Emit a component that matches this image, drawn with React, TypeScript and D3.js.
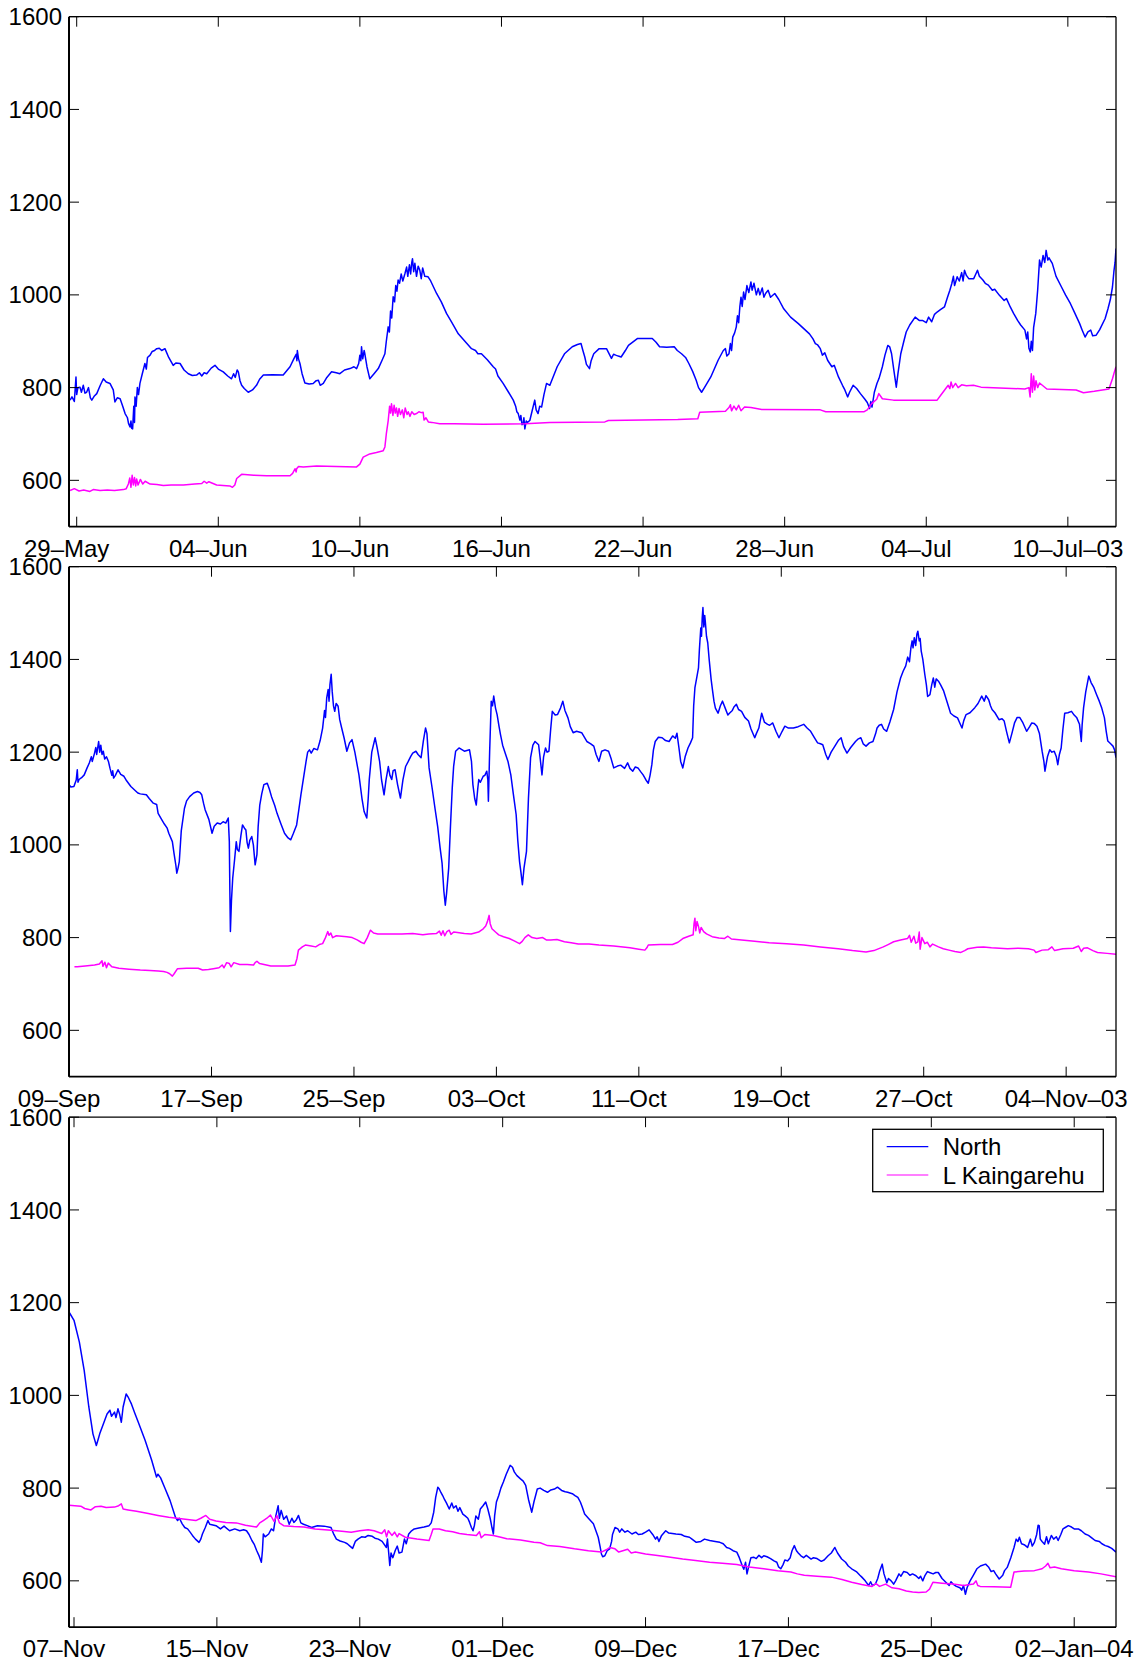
import React from 'react';
import * as d3 from 'd3';

type Pt = [number, number];
const FONT = '"Liberation Sans", Arial, Helvetica, sans-serif';

// ---- tick definitions ----
const yTickValues = [600, 800, 1000, 1200, 1400, 1600];
const p1TickLabels = ['29–May', '04–Jun', '10–Jun', '16–Jun', '22–Jun', '28–Jun', '04–Jul', '10–Jul–03'];
const p2TickLabels = ['09–Sep', '17–Sep', '25–Sep', '03–Oct', '11–Oct', '19–Oct', '27–Oct', '04–Nov–03'];
const p3TickLabels = ['07–Nov', '15–Nov', '23–Nov', '01–Dec', '09–Dec', '17–Dec', '25–Dec', '02–Jan–04'];
const seriesNames = ['North', 'L Kaingarehu'];

// ---- data: [days since panel start date, value] ----
const p1North: Pt[] = [[-0.28,773],[-0.2,780],[-0.1,770],[-0.03,823],[0.0,785],[0.05,800],[0.14,801],[0.2,790],[0.28,805],[0.35,788],[0.42,790],[0.5,800],[0.58,778],[0.64,773],[0.75,782],[0.85,787],[1.0,805],[1.13,819],[1.25,812],[1.41,809],[1.55,795],[1.62,769],[1.72,778],[1.84,776],[1.95,760],[2.05,744],[2.15,735],[2.2,722],[2.26,715],[2.3,728],[2.33,712],[2.37,711],[2.42,760],[2.45,725],[2.47,780],[2.52,760],[2.57,800],[2.62,785],[2.68,809],[2.78,830],[2.89,852],[2.95,840],[3.0,865],[3.11,870],[3.2,878],[3.3,880],[3.39,884],[3.5,885],[3.6,880],[3.74,884],[3.9,865],[4.09,848],[4.2,853],[4.38,852],[4.55,838],[4.73,830],[4.9,826],[5.08,827],[5.2,832],[5.3,825],[5.4,832],[5.51,830],[5.7,842],[5.86,848],[6.0,840],[6.21,834],[6.4,825],[6.56,819],[6.65,830],[6.72,822],[6.8,838],[6.85,834],[6.92,815],[6.99,805],[7.1,798],[7.27,790],[7.45,795],[7.62,805],[7.75,818],[7.91,827],[8.3,828],[8.75,827],[9.04,845],[9.2,862],[9.3,872],[9.33,858],[9.35,880],[9.4,862],[9.46,852],[9.55,830],[9.67,810],[9.85,808],[10.02,809],[10.15,815],[10.24,816],[10.32,805],[10.45,809],[10.6,822],[10.8,834],[11.0,832],[11.15,830],[11.35,838],[11.58,841],[11.75,845],[11.86,841],[11.95,852],[12.0,870],[12.04,858],[12.07,888],[12.12,862],[12.18,880],[12.21,873],[12.3,845],[12.42,819],[12.6,830],[12.78,841],[12.95,860],[13.06,873],[13.12,900],[13.2,931],[13.25,920],[13.3,965],[13.35,950],[13.41,996],[13.47,985],[13.52,1020],[13.57,1008],[13.62,1032],[13.68,1025],[13.75,1045],[13.82,1030],[13.91,1046],[13.98,1060],[14.03,1040],[14.1,1065],[14.15,1045],[14.2,1070],[14.23,1078],[14.28,1050],[14.33,1068],[14.4,1040],[14.47,1062],[14.54,1053],[14.6,1035],[14.66,1058],[14.75,1040],[14.89,1039],[15.0,1030],[15.25,1003],[15.45,985],[15.67,960],[15.9,940],[16.17,916],[16.45,900],[16.73,884],[16.9,880],[17.0,873],[17.15,873],[17.4,860],[17.65,845],[17.75,840],[17.85,825],[18.07,809],[18.3,790],[18.5,773],[18.6,760],[18.65,748],[18.71,744],[18.78,730],[18.82,740],[18.87,720],[18.92,722],[18.95,735],[18.99,711],[19.05,728],[19.1,725],[19.2,729],[19.3,750],[19.41,773],[19.47,752],[19.55,744],[19.62,760],[19.7,758],[19.8,785],[19.91,809],[20.05,805],[20.36,845],[20.67,873],[21.0,888],[21.22,893],[21.37,895],[21.45,880],[21.53,866],[21.6,850],[21.73,841],[21.8,858],[21.91,873],[22.14,884],[22.45,884],[22.66,863],[22.75,872],[22.84,870],[22.95,868],[23.07,866],[23.25,880],[23.38,891],[23.77,906],[24.39,906],[24.55,898],[24.7,888],[25.0,887],[25.32,888],[25.45,880],[25.63,873],[25.8,865],[25.94,852],[26.1,835],[26.25,816],[26.35,800],[26.48,790],[26.6,800],[26.87,823],[27.18,859],[27.4,880],[27.49,884],[27.55,868],[27.64,873],[27.7,895],[27.75,880],[27.8,909],[27.88,918],[27.95,931],[28.0,955],[28.05,940],[28.1,974],[28.15,995],[28.2,975],[28.26,1006],[28.32,990],[28.4,1020],[28.48,1005],[28.57,1028],[28.62,1010],[28.7,1025],[28.8,1000],[28.88,1014],[28.95,1000],[29.05,1015],[29.12,995],[29.19,1003],[29.3,1010],[29.4,995],[29.58,1003],[29.75,990],[29.96,970],[30.25,952],[30.58,938],[31.05,916],[31.2,905],[31.3,895],[31.4,892],[31.51,884],[31.6,870],[31.7,875],[31.82,859],[32.0,845],[32.1,848],[32.28,823],[32.45,805],[32.55,795],[32.67,780],[32.75,790],[32.9,805],[33.05,798],[33.21,787],[33.4,775],[33.5,768],[33.6,755],[33.65,770],[33.7,758],[33.8,790],[33.91,809],[34.0,820],[34.14,845],[34.25,870],[34.37,891],[34.45,888],[34.53,873],[34.62,840],[34.73,801],[34.8,830],[34.92,873],[35.05,900],[35.15,920],[35.3,935],[35.53,952],[35.7,945],[35.84,945],[36.0,940],[36.1,952],[36.23,942],[36.35,958],[36.46,963],[36.6,968],[36.77,974],[36.9,995],[37.0,1010],[37.08,1024],[37.15,1040],[37.2,1020],[37.31,1039],[37.4,1030],[37.5,1048],[37.56,1030],[37.62,1053],[37.7,1042],[37.8,1035],[38.01,1035],[38.1,1045],[38.17,1053],[38.25,1040],[38.4,1032],[38.5,1025],[38.63,1021],[38.8,1010],[38.9,1012],[39.1,999],[39.3,988],[39.4,992],[39.56,974],[39.7,960],[39.87,945],[40.0,935],[40.18,924],[40.25,905],[40.3,920],[40.35,885],[40.41,877],[40.45,900],[40.5,880],[40.55,930],[40.64,960],[40.72,1010],[40.8,1075],[40.87,1060],[40.95,1085],[41.02,1070],[41.08,1096],[41.15,1075],[41.2,1080],[41.34,1068],[41.5,1040],[41.73,1017],[41.9,1000],[42.11,981],[42.3,960],[42.5,938],[42.6,925],[42.73,909],[42.85,920],[42.97,924],[43.05,912],[43.2,913],[43.35,925],[43.58,949],[43.7,970],[43.8,990],[43.89,1017],[43.95,1050],[44.0,1070],[44.04,1100]];

const p1Kaing: Pt[] = [[-0.28,578],[-0.1,582],[0.1,577],[0.3,579],[0.56,576],[0.7,580],[0.99,578],[1.3,579],[1.6,578],[1.98,580],[2.1,582],[2.19,592],[2.25,605],[2.3,585],[2.35,611],[2.4,590],[2.45,606],[2.5,588],[2.54,603],[2.6,590],[2.7,602],[2.8,592],[2.9,598],[3.11,592],[3.4,591],[3.67,589],[4.0,590],[4.52,590],[5.0,592],[5.3,593],[5.4,598],[5.51,594],[5.6,597],[5.93,590],[6.2,589],[6.49,588],[6.6,585],[6.7,590],[6.78,604],[6.99,613],[7.5,611],[8.05,610],[8.5,610],[9.04,610],[9.15,615],[9.25,625],[9.3,618],[9.32,625],[9.4,630],[9.6,629],[10.17,631],[11.0,630],[11.86,629],[12.0,635],[12.14,650],[12.42,657],[12.7,660],[12.99,664],[13.06,672],[13.12,700],[13.2,729],[13.26,760],[13.3,745],[13.34,765],[13.4,740],[13.45,762],[13.5,745],[13.55,756],[13.6,738],[13.66,755],[13.72,742],[13.8,752],[13.86,735],[13.92,756],[14.0,742],[14.05,748],[14.12,738],[14.2,748],[14.3,742],[14.4,744],[14.5,748],[14.6,746],[14.68,747],[14.72,730],[14.8,735],[14.9,726],[15.05,725],[15.38,722],[16.0,722],[17.22,721],[19.0,722],[20.05,725],[22.38,726],[22.53,729],[25.47,731],[26.32,733],[26.4,747],[27.49,749],[27.64,757],[27.7,763],[27.75,750],[27.85,760],[27.95,752],[28.05,762],[28.15,750],[28.3,758],[28.57,757],[29.03,753],[31.51,752],[31.74,748],[33.37,748],[33.5,752],[33.68,765],[33.9,775],[33.99,787],[34.14,776],[34.61,773],[36.46,773],[36.62,784],[36.93,805],[37.0,798],[37.05,812],[37.12,800],[37.24,809],[37.35,800],[37.5,806],[37.7,804],[38.0,805],[38.32,801],[40.18,797],[40.35,800],[40.4,780],[40.45,830],[40.5,790],[40.55,825],[40.6,795],[40.65,815],[40.72,800],[40.8,810],[41.11,797],[42.35,795],[42.66,789],[43.12,792],[43.74,797],[43.89,819],[43.95,830],[44.04,845]];

const p2North: Pt[] = [[0.0,1130],[0.1,1125],[0.27,1126],[0.4,1140],[0.46,1162],[0.5,1135],[0.56,1141],[0.7,1145],[0.85,1151],[1.0,1165],[1.14,1177],[1.25,1190],[1.3,1180],[1.43,1198],[1.5,1210],[1.55,1195],[1.66,1223],[1.72,1200],[1.78,1215],[1.85,1195],[1.92,1202],[2.0,1185],[2.1,1190],[2.21,1180],[2.3,1165],[2.4,1150],[2.45,1160],[2.5,1144],[2.6,1150],[2.75,1162],[2.9,1152],[3.08,1148],[3.2,1140],[3.47,1126],[3.86,1112],[4.0,1110],[4.34,1108],[4.5,1100],[4.73,1090],[4.92,1087],[5.0,1068],[5.21,1054],[5.35,1045],[5.51,1036],[5.6,1025],[5.8,1007],[5.9,980],[6.0,955],[6.05,939],[6.12,950],[6.19,964],[6.3,1030],[6.48,1079],[6.6,1095],[6.77,1104],[7.0,1112],[7.21,1115],[7.35,1113],[7.45,1108],[7.55,1090],[7.64,1076],[7.85,1055],[8.03,1025],[8.15,1040],[8.32,1047],[8.5,1045],[8.65,1050],[8.8,1047],[8.94,1058],[9.0,1007],[9.03,900],[9.06,813],[9.12,880],[9.19,928],[9.3,970],[9.39,1007],[9.45,990],[9.54,986],[9.65,1020],[9.74,1043],[9.85,1036],[9.93,1032],[10.0,1005],[10.07,993],[10.15,1010],[10.26,1018],[10.35,1000],[10.45,957],[10.55,979],[10.62,1040],[10.71,1086],[10.82,1110],[10.94,1130],[11.13,1133],[11.25,1120],[11.37,1104],[11.55,1085],[11.68,1068],[11.9,1045],[12.1,1025],[12.3,1015],[12.45,1011],[12.6,1025],[12.78,1043],[12.9,1075],[13.02,1108],[13.15,1140],[13.31,1180],[13.4,1200],[13.5,1205],[13.6,1198],[13.75,1208],[13.95,1205],[14.1,1225],[14.24,1252],[14.35,1290],[14.4,1275],[14.47,1317],[14.55,1335],[14.6,1310],[14.65,1345],[14.72,1368],[14.78,1330],[14.85,1300],[14.92,1288],[15.0,1305],[15.11,1299],[15.2,1270],[15.31,1252],[15.45,1230],[15.6,1202],[15.75,1220],[15.89,1227],[16.05,1200],[16.28,1151],[16.45,1100],[16.57,1072],[16.72,1058],[16.8,1100],[16.86,1141],[17.0,1200],[17.19,1231],[17.3,1210],[17.44,1180],[17.55,1140],[17.69,1108],[17.8,1140],[17.93,1169],[18.02,1150],[18.12,1141],[18.2,1160],[18.31,1162],[18.45,1130],[18.61,1101],[18.75,1140],[18.9,1169],[19.05,1180],[19.19,1191],[19.3,1198],[19.48,1202],[19.6,1195],[19.77,1188],[19.9,1225],[20.02,1252],[20.1,1240],[20.22,1166],[20.4,1120],[20.55,1079],[20.7,1040],[20.84,993],[20.95,960],[21.05,900],[21.13,870],[21.2,895],[21.32,950],[21.42,1040],[21.52,1123],[21.6,1170],[21.71,1202],[21.9,1209],[22.2,1202],[22.49,1205],[22.6,1180],[22.68,1130],[22.78,1100],[22.87,1086],[22.95,1120],[23.01,1141],[23.1,1135],[23.26,1148],[23.35,1150],[23.46,1159],[23.52,1140],[23.55,1094],[23.62,1200],[23.71,1310],[23.78,1300],[23.85,1321],[23.95,1295],[24.04,1281],[24.15,1255],[24.23,1238],[24.35,1215],[24.52,1195],[24.65,1180],[24.81,1151],[24.95,1110],[25.11,1065],[25.2,1010],[25.3,964],[25.38,940],[25.46,914],[25.55,950],[25.69,986],[25.8,1100],[25.92,1188],[26.05,1215],[26.17,1223],[26.37,1216],[26.45,1190],[26.56,1151],[26.65,1190],[26.76,1209],[26.85,1200],[26.95,1202],[27.05,1250],[27.14,1288],[27.3,1280],[27.43,1281],[27.6,1295],[27.73,1310],[27.85,1290],[28.02,1274],[28.15,1255],[28.31,1242],[28.5,1245],[28.79,1242],[29.08,1223],[29.3,1218],[29.47,1213],[29.6,1195],[29.76,1180],[29.91,1202],[30.1,1205],[30.3,1202],[30.45,1185],[30.59,1166],[30.8,1170],[30.98,1172],[31.2,1165],[31.37,1177],[31.5,1165],[31.66,1159],[31.8,1168],[31.95,1166],[32.1,1158],[32.24,1151],[32.4,1140],[32.53,1133],[32.63,1150],[32.73,1173],[32.82,1205],[32.92,1223],[33.1,1232],[33.31,1231],[33.5,1225],[33.7,1223],[33.9,1235],[34.05,1230],[34.14,1241],[34.25,1210],[34.35,1180],[34.47,1166],[34.6,1190],[34.76,1209],[34.9,1220],[35.02,1231],[35.08,1300],[35.15,1339],[35.25,1360],[35.35,1382],[35.4,1420],[35.48,1468],[35.52,1450],[35.56,1490],[35.6,1512],[35.65,1470],[35.7,1495],[35.73,1483],[35.8,1450],[35.87,1436],[35.95,1400],[36.06,1357],[36.15,1330],[36.22,1310],[36.3,1295],[36.45,1284],[36.58,1300],[36.7,1310],[36.85,1295],[37.0,1280],[37.09,1284],[37.25,1290],[37.35,1298],[37.48,1303],[37.6,1292],[37.77,1288],[37.95,1275],[38.16,1267],[38.3,1250],[38.51,1231],[38.6,1240],[38.74,1252],[38.9,1284],[39.05,1265],[39.23,1260],[39.35,1258],[39.52,1263],[39.7,1245],[39.87,1231],[40.05,1245],[40.2,1256],[40.4,1252],[40.68,1252],[40.95,1255],[41.26,1260],[41.45,1252],[41.65,1245],[41.85,1232],[42.04,1220],[42.2,1218],[42.33,1216],[42.5,1195],[42.62,1184],[42.8,1200],[43.01,1213],[43.2,1225],[43.36,1231],[43.5,1212],[43.69,1198],[43.9,1210],[44.17,1223],[44.3,1228],[44.47,1231],[44.6,1218],[44.76,1213],[44.95,1220],[45.15,1223],[45.3,1240],[45.38,1252],[45.5,1258],[45.63,1260],[45.75,1250],[45.92,1245],[46.1,1265],[46.31,1292],[46.5,1330],[46.7,1360],[46.85,1375],[46.99,1386],[47.1,1405],[47.2,1395],[47.28,1425],[47.35,1440],[47.4,1425],[47.47,1447],[47.55,1430],[47.62,1455],[47.67,1461],[47.75,1440],[47.8,1445],[47.86,1418],[47.95,1400],[48.06,1368],[48.15,1345],[48.22,1320],[48.35,1324],[48.45,1345],[48.54,1360],[48.62,1340],[48.7,1358],[48.83,1353],[48.95,1345],[49.12,1332],[49.3,1310],[49.51,1284],[49.7,1278],[49.9,1274],[50.0,1265],[50.15,1252],[50.25,1268],[50.38,1281],[50.6,1285],[50.87,1296],[51.05,1305],[51.26,1321],[51.4,1310],[51.5,1322],[51.65,1313],[51.75,1300],[51.84,1292],[52.0,1285],[52.23,1270],[52.4,1272],[52.52,1267],[52.65,1245],[52.81,1220],[52.95,1240],[53.1,1263],[53.25,1275],[53.39,1275],[53.55,1265],[53.78,1245],[53.95,1255],[54.07,1263],[54.2,1262],[54.36,1256],[54.5,1240],[54.65,1202],[54.75,1180],[54.81,1159],[54.95,1190],[55.08,1205],[55.2,1200],[55.33,1202],[55.45,1190],[55.53,1173],[55.62,1195],[55.72,1209],[55.82,1250],[55.92,1284],[56.1,1285],[56.3,1288],[56.45,1280],[56.6,1274],[56.75,1260],[56.85,1223],[56.9,1260],[56.98,1296],[57.1,1330],[57.27,1364],[57.4,1350],[57.56,1339],[57.7,1325],[57.86,1310],[58.0,1295],[58.15,1274],[58.25,1245],[58.34,1224],[58.5,1218],[58.63,1213],[58.72,1205],[58.8,1188]];

const p2Kaing: Pt[] = [[0.3,737],[0.46,737],[0.9,739],[1.43,741],[1.7,743],[1.85,750],[1.9,738],[2.01,747],[2.1,735],[2.2,745],[2.4,737],[2.8,734],[3.37,732],[4.0,730],[4.54,729],[5.0,728],[5.31,727],[5.5,725],[5.65,722],[5.8,717],[5.9,722],[6.09,733],[6.6,734],[7.25,734],[7.5,730],[7.83,731],[8.1,733],[8.42,735],[8.6,741],[8.7,735],[8.85,746],[9.0,744],[9.1,737],[9.25,746],[9.58,742],[10.0,742],[10.36,741],[10.45,746],[10.55,749],[10.7,744],[11.33,739],[12.3,739],[12.69,741],[12.8,755],[12.88,773],[13.1,780],[13.27,784],[13.6,782],[13.85,780],[14.05,785],[14.24,787],[14.4,800],[14.53,813],[14.6,805],[14.7,810],[14.8,800],[15.01,804],[15.3,803],[15.6,802],[15.9,800],[16.18,795],[16.4,790],[16.57,787],[16.75,800],[16.92,816],[17.1,810],[17.34,808],[18.0,808],[18.7,808],[19.3,809],[19.87,806],[20.2,808],[20.64,809],[20.8,814],[20.9,805],[21.0,815],[21.1,804],[21.22,813],[21.35,816],[21.45,807],[21.6,812],[21.81,811],[22.2,809],[22.58,808],[23.0,812],[23.26,819],[23.4,825],[23.5,835],[23.59,848],[23.65,830],[23.75,819],[23.95,812],[24.13,806],[24.4,802],[24.72,798],[25.0,793],[25.3,787],[25.45,792],[25.6,800],[25.79,806],[26.0,800],[26.27,798],[26.6,800],[26.8,795],[27.05,795],[27.4,796],[27.82,791],[28.2,789],[28.6,786],[29.2,786],[29.76,784],[30.59,782],[31.5,778],[32.0,775],[32.34,773],[32.45,778],[32.53,784],[33.2,785],[33.89,785],[34.2,790],[34.47,798],[34.8,803],[35.05,806],[35.1,830],[35.15,842],[35.2,815],[35.27,835],[35.35,824],[35.42,810],[35.5,822],[35.64,813],[35.8,808],[36.12,802],[36.5,799],[36.8,798],[37.0,803],[37.2,797],[37.77,795],[38.5,792],[39.32,789],[40.3,787],[41.26,784],[42.2,780],[43.2,776],[44.0,772],[44.76,769],[45.2,772],[45.73,780],[46.0,785],[46.31,791],[46.7,795],[47.09,798],[47.2,805],[47.3,790],[47.45,803],[47.55,788],[47.67,791],[47.75,812],[47.8,775],[47.9,800],[48.06,787],[48.2,790],[48.35,780],[48.5,786],[48.83,780],[49.1,776],[49.42,773],[49.75,770],[50.09,768],[50.3,772],[50.48,776],[51.0,779],[51.36,780],[51.8,778],[52.71,776],[53.3,777],[53.88,776],[54.2,773],[54.3,768],[54.65,773],[55.0,774],[55.2,780],[55.35,772],[55.82,776],[56.4,777],[56.7,782],[56.85,770],[56.98,777],[57.2,778],[57.5,772],[57.76,768],[58.3,766],[58.83,764]];

const p3North: Pt[] = [[-0.28,1180],[0,1162],[0.3,1115],[0.57,1054],[0.83,975],[1.06,917],[1.25,892],[1.35,905],[1.44,917],[1.7,944],[1.85,960],[2.01,968],[2.1,955],[2.27,964],[2.35,952],[2.46,971],[2.55,960],[2.65,942],[2.75,975],[2.92,1003],[3.05,995],[3.22,981],[3.4,962],[3.6,942],[3.98,903],[4.35,860],[4.62,824],[4.7,830],[4.85,822],[5.11,798],[5.38,773],[5.68,737],[5.8,730],[5.9,735],[6.06,723],[6.2,715],[6.36,712],[6.5,705],[6.63,698],[6.8,690],[7.0,683],[7.1,690],[7.19,701],[7.35,715],[7.5,730],[7.6,722],[7.95,719],[8.2,712],[8.4,718],[8.71,708],[9.0,712],[9.28,708],[9.5,710],[9.66,708],[9.8,700],[9.96,687],[10.1,678],[10.22,666],[10.35,655],[10.49,640],[10.55,665],[10.6,701],[10.7,695],[10.9,701],[11.05,712],[11.17,708],[11.3,740],[11.43,762],[11.5,735],[11.6,752],[11.74,733],[11.9,740],[12.05,722],[12.2,735],[12.31,726],[12.45,732],[12.57,741],[12.7,725],[12.85,722],[13.06,719],[13.3,715],[13.63,719],[14.0,718],[14.39,715],[14.55,700],[14.69,690],[14.9,686],[15.15,683],[15.3,680],[15.45,675],[15.6,670],[15.75,685],[15.9,690],[16.1,695],[16.3,694],[16.47,698],[16.7,696],[16.85,692],[17.04,690],[17.25,685],[17.49,672],[17.55,690],[17.62,660],[17.68,633],[17.75,660],[17.85,650],[17.99,666],[18.1,675],[18.2,660],[18.36,662],[18.5,690],[18.6,680],[18.74,701],[18.9,708],[19.05,712],[19.31,714],[19.6,716],[19.88,719],[20.0,725],[20.14,748],[20.25,780],[20.37,802],[20.45,798],[20.55,790],[20.64,784],[20.75,775],[20.85,768],[21.01,755],[21.15,768],[21.25,757],[21.39,762],[21.5,750],[21.6,758],[21.77,744],[21.9,740],[22.05,735],[22.15,726],[22.25,715],[22.34,708],[22.42,720],[22.5,740],[22.64,733],[22.75,755],[22.9,762],[23.05,770],[23.17,755],[23.3,735],[23.4,715],[23.48,701],[23.55,740],[23.65,770],[23.78,784],[23.9,800],[24.04,813],[24.2,830],[24.42,849],[24.55,845],[24.65,835],[24.8,827],[25.0,820],[25.15,815],[25.29,806],[25.45,775],[25.63,748],[25.75,770],[25.94,798],[26.1,800],[26.3,795],[26.51,791],[26.7,796],[26.9,798],[27.07,802],[27.3,795],[27.5,792],[27.64,791],[27.9,788],[28.05,784],[28.21,780],[28.35,770],[28.45,760],[28.59,744],[28.8,735],[29.08,723],[29.25,705],[29.35,694],[29.45,675],[29.53,658],[29.6,652],[29.72,654],[29.85,665],[29.99,669],[30.1,685],[30.15,700],[30.29,715],[30.45,712],[30.55,705],[30.67,712],[30.85,705],[31.0,708],[31.24,701],[31.45,705],[31.6,700],[31.81,701],[32.0,705],[32.2,710],[32.4,700],[32.56,690],[32.65,695],[32.75,685],[32.9,698],[33.13,708],[33.3,703],[33.5,702],[33.7,701],[34.0,700],[34.2,696],[34.46,694],[34.6,690],[34.84,683],[35.1,685],[35.3,690],[35.59,687],[35.9,685],[36.16,683],[36.35,680],[36.54,672],[36.7,670],[36.9,665],[37.11,662],[37.25,650],[37.41,633],[37.5,625],[37.6,640],[37.68,615],[37.8,635],[37.9,650],[38.05,651],[38.2,648],[38.35,655],[38.5,650],[38.62,654],[38.8,652],[39.0,648],[39.19,643],[39.35,640],[39.45,630],[39.57,626],[39.7,635],[39.8,645],[39.95,643],[40.1,650],[40.2,665],[40.33,676],[40.45,665],[40.55,660],[40.7,654],[40.85,650],[41.0,655],[41.27,647],[41.4,650],[41.6,648],[41.84,642],[42.0,645],[42.22,654],[42.4,660],[42.6,672],[42.75,660],[42.98,647],[43.2,640],[43.35,632],[43.54,626],[43.8,620],[44.0,612],[44.11,608],[44.3,600],[44.49,590],[44.6,598],[44.7,590],[44.87,593],[45.0,605],[45.1,620],[45.25,636],[45.35,615],[45.51,596],[45.6,605],[45.75,600],[45.89,593],[46.0,600],[46.19,615],[46.3,610],[46.45,620],[46.65,618],[46.8,612],[46.95,615],[47.14,611],[47.3,605],[47.4,610],[47.52,600],[47.65,612],[47.78,620],[47.9,618],[48.1,615],[48.25,618],[48.39,618],[48.6,605],[48.84,596],[49.0,590],[49.1,598],[49.22,593],[49.4,588],[49.6,585],[49.7,580],[49.8,590],[49.91,571],[50.0,585],[50.17,600],[50.35,612],[50.55,626],[50.75,632],[51.04,636],[51.2,630],[51.35,620],[51.49,622],[51.6,615],[51.8,604],[52.0,612],[52.1,622],[52.25,629],[52.45,650],[52.63,672],[52.75,690],[52.85,685],[52.93,694],[53.05,680],[53.2,678],[53.39,672],[53.55,690],[53.65,675],[53.77,683],[53.9,700],[53.98,720],[54.04,719],[54.1,690],[54.2,685],[54.34,679],[54.45,695],[54.55,680],[54.72,698],[54.85,690],[55.0,695],[55.1,687],[55.25,700],[55.37,712],[55.5,715],[55.67,719],[55.85,716],[56.0,712],[56.23,712],[56.4,708],[56.61,701],[56.8,698],[57.0,692],[57.17,687],[57.4,685],[57.55,680],[57.74,676],[57.9,674],[58.1,670],[58.34,662]];

const p3Kaing: Pt[] = [[-0.28,763],[0.38,761],[0.6,756],[0.95,753],[1.2,760],[1.51,761],[1.8,758],[2.27,759],[2.5,762],[2.65,766],[2.75,755],[3.03,753],[3.5,750],[4.16,745],[4.7,741],[5.3,737],[6.0,734],[6.82,730],[7.1,735],[7.38,741],[7.6,733],[7.95,729],[8.5,726],[9.09,725],[9.6,720],[10.22,716],[10.4,725],[10.6,730],[10.8,735],[11.0,742],[11.2,728],[11.36,741],[11.5,725],[11.74,719],[12.3,717],[12.87,716],[13.5,712],[14.39,709],[15.0,707],[15.52,705],[16.0,708],[16.47,710],[16.8,708],[17.23,702],[17.4,710],[17.5,695],[17.6,708],[17.8,698],[17.95,705],[18.1,695],[18.2,702],[18.55,694],[19.2,690],[19.88,687],[20.0,700],[20.1,712],[20.45,712],[20.8,708],[21.2,706],[21.58,702],[22.0,700],[22.53,698],[22.7,706],[22.8,693],[23.0,700],[23.48,698],[23.9,694],[24.23,691],[25.0,688],[25.75,683],[26.1,682],[26.51,676],[27.2,674],[28.02,669],[28.8,665],[29.53,662],[29.8,667],[30.0,672],[30.29,669],[30.5,662],[31.0,668],[31.2,660],[31.43,662],[32.0,658],[32.56,655],[33.2,652],[34.08,647],[34.8,644],[35.59,640],[36.3,638],[37.11,635],[37.8,630],[38.62,626],[39.4,622],[40.14,619],[40.5,615],[40.89,612],[41.6,610],[42.41,608],[43.0,603],[43.54,597],[44.1,592],[44.68,588],[44.9,594],[45.1,588],[45.44,593],[45.8,585],[46.19,583],[46.6,578],[46.95,576],[47.3,575],[47.71,576],[47.9,582],[48.09,597],[48.6,595],[49.22,593],[49.8,590],[50.36,593],[50.5,600],[50.6,590],[50.74,588],[51.5,587],[52.44,586],[52.55,605],[52.63,619],[53.2,621],[53.77,622],[54.2,626],[54.4,632],[54.53,638],[54.65,628],[54.9,630],[55.28,626],[56.0,622],[56.8,619],[57.5,615],[58.34,609]];

// ---- panel configuration ----
const DAY = 86400000;
const panels = [
  { start: Date.UTC(2003, 4, 29), from: -0.326, to: 44.04, step: 6, labels: p1TickLabels, north: p1North, kaing: p1Kaing, top: 16.7 },
  { start: Date.UTC(2003, 8, 9), from: -0.005, to: 58.8, step: 8, labels: p2TickLabels, north: p2North, kaing: p2Kaing, top: 566.7 },
  { start: Date.UTC(2003, 10, 7), from: -0.28, to: 58.34, step: 8, labels: p3TickLabels, north: p3North, kaing: p3Kaing, top: 1117.2 },
];

const W = 1140, H = 1665;
const LEFT = 69, RIGHT = 1116, PH = 510;
const BLUE = '#0000ff', MAGENTA = '#ff00ff';
const FS = 24;

function Panel({ cfg, idx, legend }: { cfg: typeof panels[number]; idx: number; legend: boolean }) {
  const top = cfg.top, bottom = top + PH;
  const x = d3.scaleUtc()
    .domain([new Date(cfg.start + cfg.from * DAY), new Date(cfg.start + cfg.to * DAY)])
    .range([LEFT, RIGHT]);
  const y = d3.scaleLinear().domain([500, 1600]).range([bottom, top]);
  const line = d3.line<Pt>()
    .x(d => x(new Date(cfg.start + d[0] * DAY)))
    .y(d => y(d[1]));
  const ticks = cfg.labels.map((lab, i) => ({ lab, x: x(new Date(cfg.start + i * cfg.step * DAY)) }));
  const maxLen = d3.max(cfg.labels, l => l.length) as number;
  const clipId = `clip${idx}`;
  return (
    <g>
      <defs>
        <clipPath id={clipId}><rect x={LEFT} y={top} width={RIGHT - LEFT} height={PH} /></clipPath>
      </defs>
      <g clipPath={`url(#${clipId})`}>
        <path d={line(cfg.north) || ''} fill="none" stroke={BLUE} strokeWidth={1.5} strokeLinejoin="round" />
        <path d={line(cfg.kaing) || ''} fill="none" stroke={MAGENTA} strokeWidth={1.5} strokeLinejoin="round" />
      </g>
      {/* box */}
      <line x1={LEFT} x2={RIGHT} y1={top} y2={top} stroke="#000" strokeWidth={1.3} />
      <line x1={RIGHT} x2={RIGHT} y1={top} y2={bottom} stroke="#000" strokeWidth={1.3} />
      <line x1={LEFT} x2={RIGHT} y1={bottom} y2={bottom} stroke="#000" strokeWidth={1.8} />
      <line x1={LEFT} x2={LEFT} y1={top} y2={bottom} stroke="#000" strokeWidth={2} />
      {/* y ticks */}
      {yTickValues.map(v => (
        <g key={v}>
          <line x1={LEFT} x2={LEFT + 10} y1={y(v)} y2={y(v)} stroke="#000" strokeWidth={1} />
          <line x1={RIGHT - 10} x2={RIGHT} y1={y(v)} y2={y(v)} stroke="#000" strokeWidth={1} />
          <text x={LEFT - 7} y={y(v) + 8.6} textAnchor="end" fontFamily={FONT} fontSize={FS} fill="#000">{v}</text>
        </g>
      ))}
      {/* x ticks */}
      {ticks.map((t, i) => (
        <g key={i}>
          <line x1={t.x} x2={t.x} y1={bottom} y2={bottom - 10} stroke="#000" strokeWidth={1} />
          <line x1={t.x} x2={t.x} y1={top} y2={top + 10} stroke="#000" strokeWidth={1} />
          <text x={t.x - (maxLen - t.lab.length) * 0.278 * FS / 2} y={bottom + 30} textAnchor="middle" fontFamily={FONT} fontSize={FS} fill="#000">{t.lab}</text>
        </g>
      ))}
      {legend && (
        <g>
          <rect x={872.7} y={1129.3} width={230.6} height={62.4} fill="#fff" stroke="#000" strokeWidth={1.3} />
          {seriesNames.map((name, i) => (
            <g key={name}>
              <line x1={886.7} x2={928.3} y1={1146.7 + i * 28.3} y2={1146.7 + i * 28.3} stroke={i === 0 ? BLUE : MAGENTA} strokeWidth={1.2} />
              <text x={942.7} y={1146.7 + i * 28.3 + 8.5} fontFamily={FONT} fontSize={FS} fill="#000">{name}</text>
            </g>
          ))}
        </g>
      )}
    </g>
  );
}

export default function App() {
  return (
    <svg width={W} height={H} viewBox={`0 0 ${W} ${H}`} style={{ position: 'absolute', left: 0, top: 0, background: '#fff' }}>
      <rect x={0} y={0} width={W} height={H} fill="#fff" />
      {panels.map((p, i) => (
        <Panel key={i} cfg={p} idx={i} legend={i === 2} />
      ))}
    </svg>
  );
}
